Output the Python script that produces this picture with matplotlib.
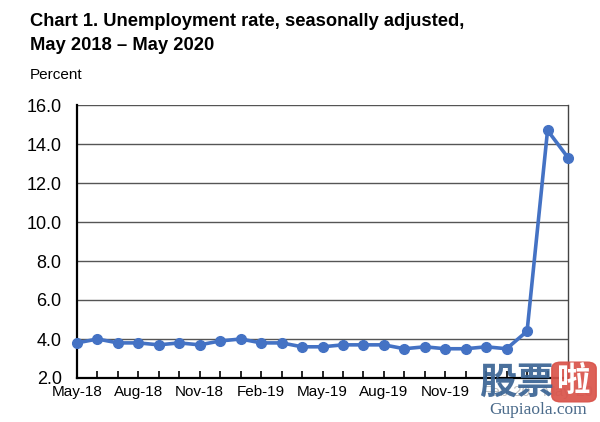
import matplotlib
matplotlib.use("Agg")
import matplotlib.pyplot as plt
from matplotlib.patches import FancyBboxPatch

months = [
    "May-18", "Jun-18", "Jul-18", "Aug-18", "Sep-18", "Oct-18", "Nov-18", "Dec-18",
    "Jan-19", "Feb-19", "Mar-19", "Apr-19", "May-19", "Jun-19", "Jul-19", "Aug-19",
    "Sep-19", "Oct-19", "Nov-19", "Dec-19", "Jan-20", "Feb-20", "Mar-20", "Apr-20", "May-20",
]
rate = [
    3.8, 4.0, 3.8, 3.8, 3.7, 3.8, 3.7, 3.9,
    4.0, 3.8, 3.8, 3.6, 3.6, 3.7, 3.7, 3.7,
    3.5, 3.6, 3.5, 3.5, 3.6, 3.5, 4.4, 14.7, 13.3,
]
y_ticks = [2.0, 4.0, 6.0, 8.0, 10.0, 12.0, 14.0, 16.0]

plt.rcParams["font.family"] = ["Liberation Sans", "DejaVu Sans"]
blue = "#4472C4"

fig = plt.figure(figsize=(6.0, 4.22), dpi=100)
W, H = 600, 422
ax = fig.add_axes([77 / W, 1 - 378 / H, (568 - 77) / W, (378 - 105) / H])

x = list(range(len(months)))
ax.plot(x, rate, color=blue, lw=2.6, marker="o", ms=7, zorder=3, clip_on=False)

ax.set_xlim(0, len(months) - 1)
ax.set_ylim(y_ticks[0], y_ticks[-1])
ax.set_yticks(y_ticks)
ax.set_yticklabels([f"{v:.1f}" for v in y_ticks], fontsize=13)
ax.yaxis.grid(True, color="#555555", lw=1.0)
ax.set_axisbelow(True)
ax.tick_params(axis="y", length=0, pad=11)

ax.set_xticks(x)
ax.set_xticklabels([m if i % 3 == 0 else "" for i, m in enumerate(months)], fontsize=11)
ax.tick_params(axis="x", direction="in", length=5, width=1.2, pad=5)
# the last two labels sit under the watermark, faded as in the source
for lab in ax.get_xticklabels()[21:]:
    lab.set_alpha(0.25)
for side in ["left", "bottom"]:
    ax.spines[side].set_linewidth(1.6)
ax.spines["right"].set_linewidth(1.0)
ax.spines["top"].set_visible(False)
ax.spines["right"].set_color("#444444")

fig.text(30 / W, 1 - 22 / H, "Chart 1. Unemployment rate, seasonally adjusted,",
         fontsize=13.2, fontweight="bold", va="center", ha="left")
fig.text(30 / W, 1 - 45 / H, "May 2018 \u2013 May 2020",
         fontsize=13.2, fontweight="bold", va="center", ha="left")
fig.text(30 / W, 1 - 75 / H, "Percent", fontsize=11, va="center", ha="left")

# watermark in the lower right corner of the source picture
cjk = ["Noto Sans CJK SC", "DejaVu Sans"]
fig.text(517 / W, 1 - 382 / H, "\u80a1\u7968", family=cjk, fontsize=27, fontweight="bold",
         color="#3A6494", ha="center", va="center", alpha=0.92, zorder=6)
box = FancyBboxPatch((553 / W, 1 - 401 / H), 42 / W, 38 / H,
                     boxstyle="round,pad=0.002,rounding_size=0.015",
                     transform=fig.transFigure, color="#D9534A", alpha=0.92, zorder=5)
fig.patches.append(box)
fig.text(574 / W, 1 - 382 / H, "\u5566", family=cjk, fontsize=24, fontweight="bold",
         color="white", ha="center", va="center", zorder=6)
fig.text(538 / W, 1 - 410 / H, "Gupiaola.com", family=["Liberation Serif"], fontsize=12.5,
         color="#4A6A8A", ha="center", va="center")

fig.savefig("out.png", dpi=100)
